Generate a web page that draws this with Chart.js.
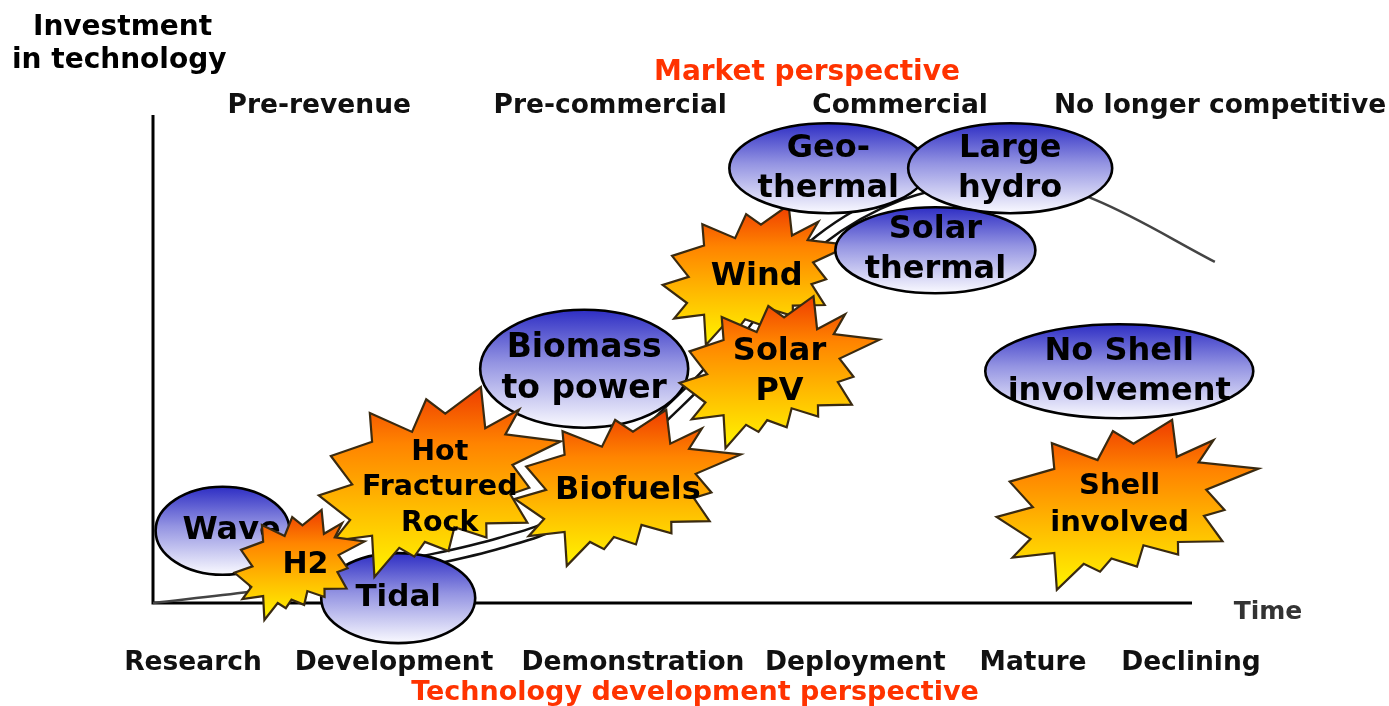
<!DOCTYPE html>
<html>
<head>
<meta charset="utf-8">
<script src="https://cdn.jsdelivr.net/npm/chart.js@4.4.1/dist/chart.umd.min.js"></script>
<style>
  html, body { margin: 0; padding: 0; background: #fff; overflow: hidden; }
  #wrap { width: 1389px; height: 706px; }
</style>
</head>
<body>
<div id="wrap"><canvas id="lifeCycle" width="1389" height="706"></canvas></div>
<script>
// Technologies, in drawing order (later ones sit on top)
const technologies = ["Biomass\nto power", "Wave", "Tidal", "Hot\nFractured\nRock", "H2", "Biofuels",
    "Wind", "Solar\nPV", "Geo-\nthermal", "Large\nhydro", "Solar\nthermal", "No Shell\ninvolvement", "Shell\ninvolved"];
const shellInvolved = [false, false, false, true, true, true, true, true, false, false, false, false, true];
const techTime = [4.15, 0.67, 2.36, 2.76, 1.41, 4.57, 5.81, 6.03, 6.50, 8.25, 7.53, 9.30, 9.38];
const techInvestment = [4.80, 1.48, 0.10, 2.48, 0.78, 2.36, 6.72, 4.73, 8.91, 8.91, 7.23, 4.75, 2.01];

// Investment curve over time
const curveTime = [0, 0.93, 1.70, 2.57, 3.34, 3.92, 4.40, 4.88, 5.36, 5.84, 6.42, 7.19, 8.15, 9.07, 10.22];
const curveInvestment = [0, 0.23, 0.47, 0.84, 1.23, 1.70, 2.73, 3.75, 4.77, 6.11, 7.44, 8.36, 8.83, 8.26, 6.99];

// Axis stage labels
const techStages = ["Research", "Development", "Demonstration", "Deployment", "Mature", "Declining"];
const techStageAt = [0.385, 2.32, 4.62, 6.76, 8.47, 9.99];
const marketStages = ["Pre-revenue", "Pre-commercial", "Commercial", "No longer competitive"];
const marketStageAt = [1.60, 4.40, 7.19, 10.27];

// shape sizes in px (w, h) and label font size
const shapeStyle = {
    "Biomass\nto power": { w: 208, h: 118, font: 33 },
    "Wave": { w: 134, h: 88, font: 32, dx: 9 },
    "Tidal": { w: 154, h: 90, font: 31 },
    "Hot\nFractured\nRock": { w: 242, h: 190, font: 28.5, dy: 6 },
    "H2": { w: 130, h: 110, font: 30, dx: 6 },
    "Biofuels": { w: 226, h: 156, font: 32, dy: 3 },
    "Wind": { w: 188, h: 140, font: 32, dy: 2 },
    "Solar\nPV": { w: 200, h: 152, font: 32 },
    "Geo-\nthermal": { w: 198, h: 90, font: 32 },
    "Large\nhydro": { w: 204, h: 90, font: 32 },
    "Solar\nthermal": { w: 200, h: 86, font: 32 },
    "No Shell\ninvolvement": { w: 268, h: 94, font: 32 },
    "Shell\ninvolved": { w: 262, h: 170, font: 29, dx: -8 }
};

const FONT = '"DejaVu Sans", sans-serif';

// starburst outline in a unit box (tip, valley, tip, ...)
const burstPts = [[0.670, 0.000], [0.674, 0.238], [0.828, 0.119], [0.751, 0.268], [1.000, 0.286], [0.778, 0.417],
    [0.870, 0.530], [0.770, 0.560], [0.862, 0.714], [0.678, 0.702], [0.693, 0.792], [0.556, 0.720],
    [0.536, 0.863], [0.443, 0.792], [0.395, 0.893], [0.345, 0.821], [0.230, 1.000], [0.241, 0.762],
    [0.061, 0.810], [0.157, 0.685], [0.000, 0.571], [0.165, 0.512], [0.050, 0.363], [0.241, 0.304],
    [0.211, 0.137], [0.394, 0.256], [0.444, 0.065], [0.521, 0.167]];

function drawStar(ctx, cx, cy, w, h) {
    ctx.beginPath();
    burstPts.forEach(([px, py], i) => {
        // valleys pushed out a little so the burst looks fuller
        const k = i % 2 ? 1.08 : 1;
        const X = cx + (px - 0.5) * k * w;
        const Y = cy + (py - 0.5) * k * h;
        if (i === 0) ctx.moveTo(X, Y); else ctx.lineTo(X, Y);
    });
    ctx.closePath();
    const g = ctx.createLinearGradient(0, cy - h / 2, 0, cy + h / 2);
    g.addColorStop(0, "#ee3c00");
    g.addColorStop(0.3, "#ff8400");
    g.addColorStop(0.65, "#ffbe00");
    g.addColorStop(1, "#fff500");
    ctx.fillStyle = g;
    ctx.fill();
    ctx.lineJoin = "miter";
    ctx.strokeStyle = "#3a2a10";
    ctx.lineWidth = 2.2;
    ctx.stroke();
}

function drawEllipse(ctx, cx, cy, w, h) {
    ctx.beginPath();
    ctx.ellipse(cx, cy, w / 2, h / 2, 0, 0, Math.PI * 2);
    const g = ctx.createLinearGradient(0, cy - h / 2, 0, cy + h / 2);
    g.addColorStop(0, "#2e2ec4");
    g.addColorStop(0.45, "#9494e2");
    g.addColorStop(1, "#fafaff");
    ctx.fillStyle = g;
    ctx.fill();
    ctx.strokeStyle = "#000";
    ctx.lineWidth = 2.6;
    ctx.stroke();
}

const diagramPlugin = {
    id: "diagram",
    beforeDatasetsDraw(chart) {
        const { ctx, scales: { x, y } } = chart;
        ctx.save();
        ctx.strokeStyle = "#000";
        ctx.lineWidth = 3;
        ctx.beginPath();
        ctx.moveTo(x.getPixelForValue(0), y.getPixelForValue(10));
        ctx.lineTo(x.getPixelForValue(0), y.getPixelForValue(0) + 1.5);
        ctx.moveTo(x.getPixelForValue(0), y.getPixelForValue(0));
        ctx.lineTo(x.getPixelForValue(10), y.getPixelForValue(0));
        ctx.stroke();
        ctx.restore();
    },
    afterDatasetsDraw(chart) {
        const ctx = chart.ctx;
        const meta = chart.getDatasetMeta(3);
        ctx.save();
        meta.data.forEach((pt, i) => {
            const name = technologies[i];
            const s = shapeStyle[name];
            if (shellInvolved[i]) drawStar(ctx, pt.x, pt.y, s.w, s.h);
            else drawEllipse(ctx, pt.x, pt.y, s.w, s.h);
            const lines = name.split("\n");
            const lh = s.font * 1.25;
            ctx.fillStyle = "#000";
            ctx.font = "bold " + s.font + "px " + FONT;
            ctx.textAlign = "center";
            ctx.textBaseline = "middle";
            lines.forEach((ln, k) => {
                const ty = pt.y + (s.dy || 0) + (k - (lines.length - 1) / 2) * lh;
                ctx.fillText(ln, pt.x + (s.dx || 0), ty);
            });
        });
        ctx.restore();
    },
    afterDraw(chart) {
        const { ctx, scales: { x } } = chart;
        ctx.save();
        ctx.textBaseline = "alphabetic";
        ctx.fillStyle = "#000";
        ctx.textAlign = "left";
        ctx.font = "bold 28px " + FONT;
        ctx.fillText("Investment", 33, 35);
        ctx.fillText("in technology", 12, 68);

        ctx.textAlign = "center";
        ctx.fillStyle = "#ff3300";
        ctx.fillText("Market perspective", 807, 80);
        ctx.font = "bold 27px " + FONT;
        ctx.fillText("Technology development perspective", 695, 700);

        ctx.fillStyle = "#111";
        ctx.font = "bold 26.5px " + FONT;
        marketStages.forEach((lab, i) => ctx.fillText(lab, x.getPixelForValue(marketStageAt[i]), 113));
        techStages.forEach((lab, i) => ctx.fillText(lab, x.getPixelForValue(techStageAt[i]), 670));

        ctx.fillStyle = "#333";
        ctx.font = "bold 25px " + FONT;
        ctx.fillText("Time", 1268, 619);
        ctx.restore();
    }
};

const curvePts = curveTime.map((t, i) => ({ x: t, y: curveInvestment[i] }));
const bandPts = curvePts.slice(1, 13);

new Chart(document.getElementById("lifeCycle"), {
    type: "scatter",
    data: {
        datasets: [
            { type: "line", data: curvePts, borderColor: "#444", borderWidth: 2.5, pointRadius: 0, tension: 0.35, clip: false, order: 4 },
            { type: "line", data: bandPts, borderColor: "#111", borderWidth: 13, pointRadius: 0, tension: 0.35, clip: false, order: 3 },
            { type: "line", data: bandPts, borderColor: "#fff", borderWidth: 8, pointRadius: 0, tension: 0.35, clip: false, order: 2 },
            { data: techTime.map((t, i) => ({ x: t, y: techInvestment[i] })), pointRadius: 0, clip: false, order: 1 }
        ]
    },
    options: {
        responsive: false,
        animation: false,
        events: [],
        layout: { padding: { left: 153, right: 197, top: 115, bottom: 103 } },
        scales: {
            x: { type: "linear", min: 0, max: 10, display: false },
            y: { type: "linear", min: 0, max: 10, display: false }
        },
        plugins: { legend: { display: false }, tooltip: { enabled: false } }
    },
    plugins: [diagramPlugin]
});
</script>
</body>
</html>
